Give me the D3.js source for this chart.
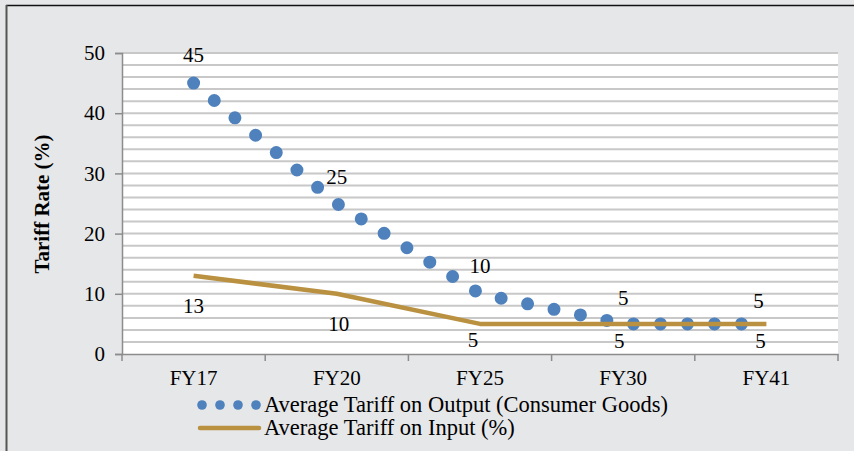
<!DOCTYPE html>
<html>
<head>
<meta charset="utf-8">
<script src="https://cdn.jsdelivr.net/npm/d3@7"></script>
<style>
  body { margin: 0; background: #fff; }
  svg { display: block; }
  text { font-family: "Liberation Serif", "Times New Roman", serif; fill: #000; }
</style>
</head>
<body>
<div class="chart"></div>
<script>
// chart data
const categories = ["FY17", "FY20", "FY25", "FY30", "FY41"];
const outputTariff = [45, 25, 10, 5, 5];
const inputTariff = [13, 10, 5, 5, 5];
const yTicks = [0, 10, 20, 30, 40, 50];
const seriesNames = ["Average Tariff on Output (Consumer Goods)", "Average Tariff on Input (%)"];

function drawChart() {
  const width = 854;
  const height = 451;
  const margins = {top: 53, bottom: 97, left: 122, right: 16};

  const blue = "#4f81bd";
  const gold = "#b99140";
  const axisColor = "#8c8c8c";
  const fontSize = "21px";

  const svg = d3.select(".chart").append("svg")
    .attr("width", width)
    .attr("height", height);

  // background + frame
  svg.append("rect")
    .attr("x", 0).attr("y", 0)
    .attr("width", width).attr("height", height)
    .attr("fill", "#e6e7e9");
  svg.append("line")
    .attr("x1", 6).attr("x2", width)
    .attr("y1", 5.5).attr("y2", 5.5)
    .attr("stroke", "#111").attr("stroke-width", 1.5);
  svg.append("line")
    .attr("x1", 6.5).attr("x2", 6.5)
    .attr("y1", 5).attr("y2", height)
    .attr("stroke", "#555").attr("stroke-width", 2);

  const xScale = d3.scaleBand()
    .domain(categories)
    .range([margins.left, width - margins.right])
    .padding(0);

  const yScale = d3.scaleLinear()
    .domain([0, 50])
    .range([height - margins.bottom, margins.top]);

  const cx = d => xScale(d) + xScale.bandwidth() / 2;

  // plot area
  svg.append("rect")
    .attr("x", margins.left)
    .attr("y", margins.top)
    .attr("width", width - margins.left - margins.right)
    .attr("height", height - margins.top - margins.bottom)
    .attr("fill", "#fff");

  // gridlines every 2
  svg.append("g")
    .selectAll("line")
    .data(d3.range(2, 51, 2))
    .enter()
    .append("line")
      .attr("x1", margins.left)
      .attr("x2", width - margins.right)
      .attr("y1", d => yScale(d))
      .attr("y2", d => yScale(d))
      .attr("stroke", "#c8c8c8")
      .attr("stroke-width", 2);

  // y axis
  const yAxis = d3.axisLeft(yScale)
    .tickValues(yTicks)
    .tickSize(7)
    .tickPadding(10);
  const gy = svg.append("g")
    .attr("transform", `translate(${margins.left}, 0)`)
    .call(yAxis);
  gy.select(".domain").attr("stroke", axisColor).attr("stroke-width", 1.5);
  gy.selectAll(".tick line").attr("stroke", axisColor).attr("stroke-width", 1.5);
  gy.selectAll(".tick text")
    .style("font-family", "Liberation Serif")
    .style("font-size", fontSize)
    .attr("fill", "#000");

  // x axis
  const xAxis = d3.axisBottom(xScale).tickSize(0).tickPadding(16);
  const gx = svg.append("g")
    .attr("transform", `translate(0, ${height - margins.bottom})`)
    .call(xAxis);
  gx.select(".domain").attr("stroke", axisColor).attr("stroke-width", 1.5);
  gx.selectAll(".tick text")
    .style("font-family", "Liberation Serif")
    .style("font-size", fontSize)
    .attr("fill", "#000");
  svg.append("g")
    .selectAll("line")
    .data(d3.range(categories.length + 1))
    .enter()
    .append("line")
      .attr("x1", i => margins.left + i * xScale.bandwidth())
      .attr("x2", i => margins.left + i * xScale.bandwidth())
      .attr("y1", height - margins.bottom)
      .attr("y2", height - margins.bottom + 7)
      .attr("stroke", axisColor)
      .attr("stroke-width", 1.5);

  // y axis title
  svg.append("text")
    .attr("transform", `translate(49, 204) rotate(-90)`)
    .attr("text-anchor", "middle")
    .style("font-size", "21px")
    .style("font-weight", "bold")
    .text("Tariff Rate (%)");

  const line = d3.line()
    .x((d, i) => cx(categories[i]))
    .y(d => yScale(d));

  // output series: round dotted line
  svg.append("path")
    .attr("d", line(outputTariff))
    .attr("fill", "none")
    .attr("stroke", blue)
    .attr("stroke-width", 13)
    .attr("stroke-linecap", "round")
    .attr("stroke-dasharray", "0 27");

  // input series
  svg.append("path")
    .attr("d", line(inputTariff))
    .attr("fill", "none")
    .attr("stroke", gold)
    .attr("stroke-width", 4.5)
    .attr("stroke-linejoin", "round");

  // data labels
  const outNudge = [[0, -21], [0, -20], [0, -21], [0, -19], [-8, -16]];
  const inNudge = [[0, 37], [2, 37], [-7, 23], [-4, 24], [-6, 24]];

  svg.selectAll("outLabels")
    .data(outputTariff)
    .enter()
    .append("text")
      .attr("x", (d, i) => cx(categories[i]) + outNudge[i][0])
      .attr("y", (d, i) => yScale(d) + outNudge[i][1])
      .attr("text-anchor", "middle")
      .style("font-size", fontSize)
      .text(d => d);

  svg.selectAll("inLabels")
    .data(inputTariff)
    .enter()
    .append("text")
      .attr("x", (d, i) => cx(categories[i]) + inNudge[i][0])
      .attr("y", (d, i) => yScale(d) + inNudge[i][1])
      .attr("text-anchor", "middle")
      .style("font-size", fontSize)
      .text(d => d);

  // legend
  const legend = svg.append("g");
  legend.selectAll("circle")
    .data(d3.range(4))
    .enter()
    .append("circle")
      .attr("cx", i => 202 + i * 18)
      .attr("cy", 405)
      .attr("r", 4.8)
      .attr("fill", blue);
  legend.append("line")
    .attr("x1", 200).attr("x2", 259)
    .attr("y1", 428).attr("y2", 428)
    .attr("stroke", gold)
    .attr("stroke-width", 4.5)
    .attr("stroke-linecap", "round");
  legend.selectAll("text")
    .data(seriesNames)
    .enter()
    .append("text")
      .attr("x", 264)
      .attr("y", (d, i) => 412 + i * 23)
      .style("font-size", "22.5px")
      .text(d => d);
}

drawChart();
</script>
</body>
</html>
